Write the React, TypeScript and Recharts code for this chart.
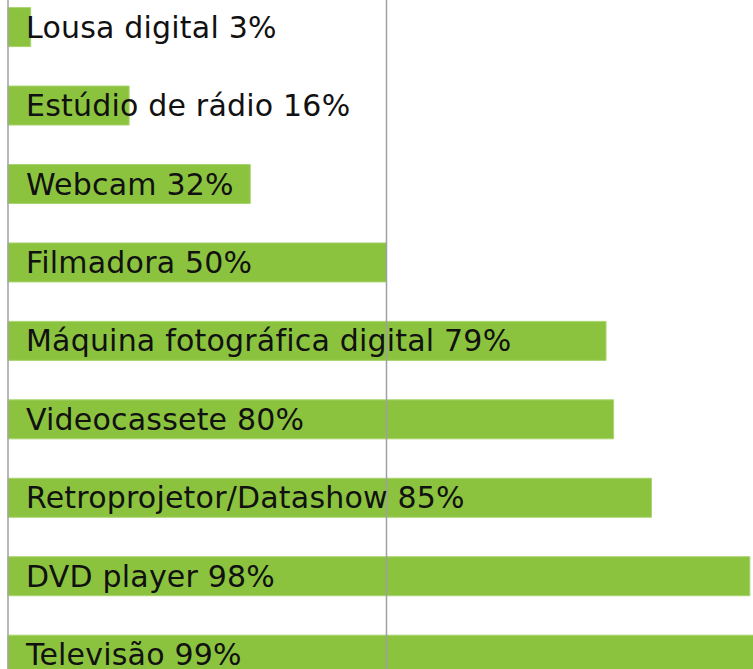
import React from 'react';
import { BarChart, Bar, XAxis, YAxis, ReferenceLine, LabelList } from 'recharts';

const categories = [
  'Lousa digital',
  'Estúdio de rádio',
  'Webcam',
  'Filmadora',
  'Máquina fotográfica digital',
  'Videocassete',
  'Retroprojetor/Datashow',
  'DVD player',
  'Televisão',
];
const values = [3, 16, 32, 50, 79, 80, 85, 98, 99];

const data = categories.map((name, i) => ({
  name,
  value: values[i],
  label: `${name} ${values[i]}%`,
}));

const renderLabel = (props: any) => {
  const { x, y, height, value } = props;
  return (
    <text
      x={Number(x) + 18}
      y={Number(y) + Number(height) / 2}
      dominantBaseline="central"
      fontFamily="'DejaVu Sans', sans-serif"
      fontSize={30}
      letterSpacing={0.2}
      fill="#111"
    >
      {value}
    </text>
  );
};

export default function App() {
  return (
    <div
      style={{
        position: 'absolute',
        left: 0,
        top: 0,
        width: 753,
        height: 669,
        overflow: 'hidden',
        background: '#fff',
      }}
    >
      <div style={{ position: 'absolute', left: 0, top: -11.6 }}>
        <BarChart
          width={770}
          height={706}
          data={data}
          layout="vertical"
          margin={{ top: 0, right: 5, bottom: 0, left: 8 }}
          barCategoryGap="25%"
        >
          <XAxis type="number" domain={[0, 100]} hide />
          <YAxis type="category" dataKey="name" hide />
          <ReferenceLine x={0} stroke="#a0a0a0" strokeWidth={1.5} ifOverflow="visible" />
          <ReferenceLine x={50} stroke="#a0a0a0" strokeWidth={1.5} ifOverflow="visible" />
          <Bar dataKey="value" fill="#8bc33f" stroke="#a9d36f" strokeWidth={1} isAnimationActive={false}>
            <LabelList dataKey="label" content={renderLabel} />
          </Bar>
        </BarChart>
      </div>
    </div>
  );
}
